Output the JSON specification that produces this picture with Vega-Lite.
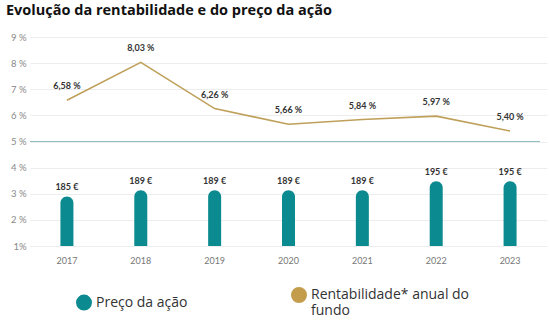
{
  "$schema": "https://vega.github.io/schema/vega-lite/v6.json",
  "width": 517,
  "height": 209,
  "autosize": "none",
  "padding": {"left": 30, "top": 37, "right": 3, "bottom": 75},
  "background": "white",
  "title": {"text": "Evolução da rentabilidade e do preço da ação", "anchor": "start", "frame": "group", "dx": -24, "offset": 14, "fontSize": 14.5, "font": "Open Sans", "fontWeight": "bold", "color": "#111111"},
  "data": {"values": [
    {"year": "2017", "rent": 6.58, "price": 185},
    {"year": "2018", "rent": 8.03, "price": 189},
    {"year": "2019", "rent": 6.26, "price": 189},
    {"year": "2020", "rent": 5.66, "price": 189},
    {"year": "2021", "rent": 5.84, "price": 189},
    {"year": "2022", "rent": 5.97, "price": 195},
    {"year": "2023", "rent": 5.40, "price": 195}
  ]},
  "transform": [
    {"calculate": "replace(format(datum.rent, '.2f'), '.', ',') + ' %'", "as": "rentLabel"},
    {"calculate": "datum.price + ' €'", "as": "priceLabel"}
  ],
  "encoding": {
    "x": {"field": "year", "type": "ordinal", "title": null,
      "axis": {"labelAngle": 0, "domain": false, "ticks": false, "labelPadding": 10, "labelColor": "#777777", "labelFontSize": 9, "labelFont": "Lato", "grid": false}}
  },
  "layer": [
    {
      "layer": [
        {"mark": {"type": "line", "color": "#bfa05a", "strokeWidth": 1.6},
          "encoding": {
            "y": {"field": "rent", "type": "quantitative", "scale": {"domain": [1, 9], "nice": false, "zero": false},
              "axis": {"orient": "left", "title": null, "values": [1, 2, 3, 4, 5, 6, 7, 8, 9], "labelOverlap": false, "domain": false, "ticks": false, "labelPadding": 4, "labelColor": "#888888", "labelFontSize": 9.5, "labelFont": "Lato", "grid": true, "gridColor": "#ededed", "labelExpr": "datum.value == 1 ? '1%' : datum.value + ' %'"}}
          }},
        {"mark": {"type": "text", "baseline": "bottom", "dy": -9, "fontSize": 9, "fontWeight": "bold", "font": "Lato", "color": "#333333"},
          "encoding": {
            "y": {"field": "rent", "type": "quantitative",
              "axis": {"orient": "left", "title": null, "values": [1, 2, 3, 4, 5, 6, 7, 8, 9], "labelOverlap": false, "domain": false, "ticks": false, "labelPadding": 4, "labelColor": "#888888", "labelFontSize": 9.5, "labelFont": "Lato", "grid": true, "gridColor": "#ededed", "labelExpr": "datum.value == 1 ? '1%' : datum.value + ' %'"}},
            "text": {"field": "rentLabel"}
          }},
        {"mark": {"type": "rule", "color": "#8fbdbd", "strokeWidth": 1},
          "encoding": {
            "y": {"datum": 5, "type": "quantitative",
              "axis": {"orient": "left", "title": null, "values": [1, 2, 3, 4, 5, 6, 7, 8, 9], "labelOverlap": false, "domain": false, "ticks": false, "labelPadding": 4, "labelColor": "#888888", "labelFontSize": 9.5, "labelFont": "Lato", "grid": true, "gridColor": "#ededed", "labelExpr": "datum.value == 1 ? '1%' : datum.value + ' %'"}},
            "x": {"value": 0}, "x2": {"value": 510}
          }}
      ]
    },
    {
      "layer": [
        {"mark": {"type": "bar", "width": 13, "cornerRadiusTopLeft": 6.5, "cornerRadiusTopRight": 6.5},
          "encoding": {
            "y": {"field": "price", "type": "quantitative", "scale": {"domain": [152, 291], "zero": false, "nice": false}, "axis": null},
            "y2": {"datum": 152},
            "color": {"datum": "Preço da ação", "type": "nominal",
              "scale": {"domain": ["Preço da ação", "Rentabilidade* anual do fundo"], "range": ["#0b8a8f", "#c39c4c"]},
              "legend": {"title": null, "orient": "none", "legendX": 46, "legendY": 250, "direction": "horizontal", "columns": 2,
                "symbolType": "circle", "symbolSize": 254, "symbolStrokeWidth": 0, "symbolOpacity": 1,
                "labelFontSize": 14, "labelFont": "Open Sans", "labelColor": "#333333", "labelOffset": 4, "labelLimit": 300,
                "columnPadding": 103,
                "labelExpr": "datum.label == 'Rentabilidade* anual do fundo' ? ['Rentabilidade* anual do', 'fundo'] : datum.label"}}
          }},
        {"mark": {"type": "text", "baseline": "bottom", "dy": -4, "fontSize": 9, "fontWeight": "bold", "font": "Lato", "color": "#333333"},
          "encoding": {
            "y": {"field": "price", "type": "quantitative", "axis": null},
            "text": {"field": "priceLabel"}
          }}
      ]
    }
  ],
  "resolve": {"scale": {"y": "independent"}},
  "config": {"view": {"stroke": null}, "axisY": {"labelOverlap": false, "grid": true, "gridColor": "#ededed"}}
}
